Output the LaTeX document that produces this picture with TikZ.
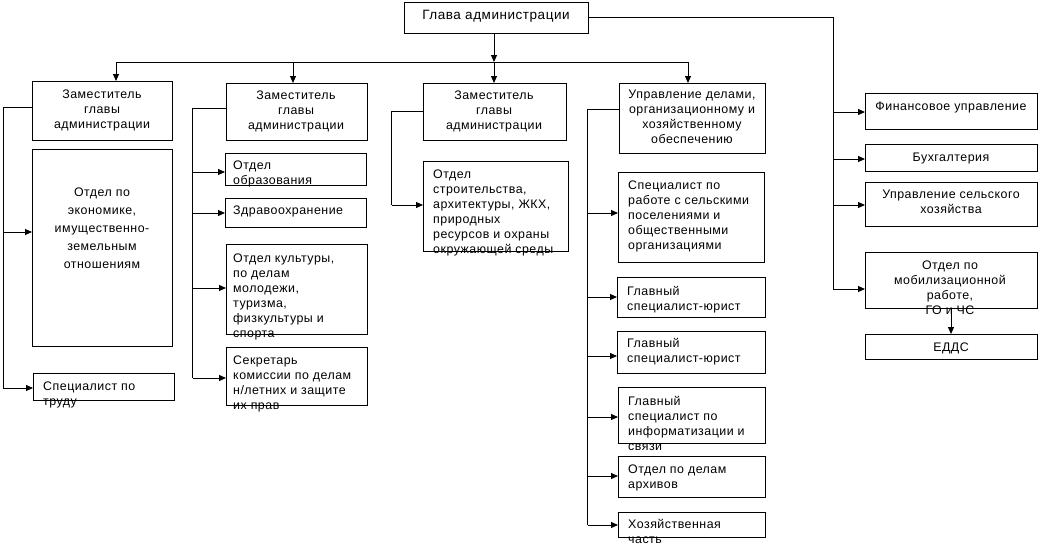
\documentclass[tikz,border=0pt]{standalone}
\usepackage{fontspec}
\setmainfont[LetterSpace=4]{Liberation Sans}
\usetikzlibrary{arrows.meta,calc}
\newcommand\mkbox[5]{\node[box, minimum width={#4-#2}, minimum height={#5-#3}] (#1) at (#2,#3) {};}
\begin{document}
\begin{tikzpicture}[x=1pt,y=-1pt,
  box/.style={draw, line width=1pt, inner sep=0pt, outer sep=0pt, anchor=north west},
  ln/.style={line width=1pt},
  arr/.style={line width=1pt, -{Triangle[length=7pt,width=6pt]}},
  tc/.style={inner sep=0pt, anchor=base, align=center, font=\fontsize{12.4}{15}\selectfont},
  tl/.style={inner sep=0pt, anchor=base west, align=left, font=\fontsize{12.4}{15}\selectfont}
]
\useasboundingbox (0,0) rectangle (1038,544);
% boxes
\mkbox{head}{404}{2}{588}{33}
\mkbox{dep1}{32}{81}{172}{140}
\mkbox{dep2}{226}{83}{367}{140}
\mkbox{dep3}{423}{83}{566}{140}
\mkbox{dep4}{619}{83}{765}{153}
\mkbox{econ}{32}{149}{172}{346}
\mkbox{trud}{33}{373}{174}{400}
\mkbox{obr}{225}{153}{366}{185}
\mkbox{zdrav}{225}{198}{366}{227}
\mkbox{kult}{226}{244}{367}{334}
\mkbox{sekr}{226}{347}{367}{405}
\mkbox{stroi}{423}{161}{568}{251}
\mkbox{spec}{618}{172}{764}{262}
\mkbox{jur1}{617}{277}{765}{317}
\mkbox{jur2}{617}{331}{765}{373}
\mkbox{inf}{618}{387}{765}{443}
\mkbox{arch}{618}{456}{765}{497}
\mkbox{hoz}{618}{512}{765}{537}
\mkbox{fin}{865}{93}{1037}{129}
\mkbox{buh}{865}{144}{1037}{171}
\mkbox{selh}{865}{182}{1037}{226}
\mkbox{mob}{865}{252}{1037}{308}
\mkbox{edds}{865}{334}{1037}{359}
% texts (anchor = baseline of the last line)
\node[tc, font=\fontsize{13.5}{15}\selectfont] (t-head) at (496,19) {Глава администрации};
\node[tc] (t-dep1) at (102,128) {Заместитель\\главы\\администрации};
\node[tc] (t-dep2) at (296,129.5) {Заместитель\\главы\\администрации};
\node[tc] (t-dep3) at (494,129.5) {Заместитель\\главы\\администрации};
\node[tc] (t-dep4) at (692,143.5) {Управление делами,\\организационному и\\хозяйственному\\обеспечению};
\node[tc, font=\fontsize{12.4}{18}\selectfont] (t-econ) at (102,268.5) {Отдел по\\экономике,\\имущественно-\\земельным\\отношениям};
\node[tl] (t-trud) at (43,405) {Специалист по\\труду};
\node[tl] (t-obr) at (233,184) {Отдел\\образования};
\node[tl] (t-zdrav) at (233,214) {Здравоохранение};
\node[tl] (t-kult) at (233,337.5) {Отдел культуры,\\по делам\\молодежи,\\туризма,\\физкультуры и\\спорта};
\node[tl] (t-sekr) at (233,409) {Секретарь\\комиссии по делам\\н/летних и защите\\их прав};
\node[tl] (t-stroi) at (433,253) {Отдел\\строительства,\\архитектуры, ЖКХ,\\природных\\ресурсов и охраны\\окружающей среды};
\node[tl] (t-spec) at (628,249) {Специалист по\\работе с сельскими\\поселениями и\\общественными\\организациями};
\node[tl] (t-jur1) at (627,310) {Главный\\специалист-юрист};
\node[tl] (t-jur2) at (627,362.5) {Главный\\специалист-юрист};
\node[tl] (t-inf) at (628,450) {Главный\\специалист по\\информатизации и\\связи};
\node[tl] (t-arch) at (628,488) {Отдел по делам\\архивов};
\node[tl] (t-hoz) at (628,543) {Хозяйственная\\часть};
\node[tc] (t-fin) at (951,110) {Финансовое управление};
\node[tc] (t-buh) at (951,161) {Бухгалтерия};
\node[tc] (t-selh) at (951,213.5) {Управление сельского\\хозяйства};
\node[tc] (t-mob) at (950,314) {Отдел по\\мобилизационной\\работе,\\ГО и ЧС};
\node[tc] (t-edds) at (951,351) {ЕДДС};
% top bus
\coordinate (b1) at (116,62);
\coordinate (b2) at (293,62);
\coordinate (b3) at (494,62);
\coordinate (b4) at (688,62);
\draw[arr] (b3 |- head.south) -- (b3);
\draw[ln] (b1) -- (b4);
\draw[arr] (b1) -- (b1 |- dep1.north);
\draw[arr] (b2) -- (b2 |- dep2.north);
\draw[arr] (b3) -- (b3 |- dep3.north);
\draw[arr] (b4) -- (b4 |- dep4.north);
% right branch
\coordinate (rb) at (833,289);
\draw[ln] (head.east) -| (rb);
\coordinate (r1) at (833,112);
\coordinate (r2) at (833,159);
\coordinate (r3) at (833,205);
\draw[arr] (r1) -- (r1 -| fin.west);
\draw[arr] (r2) -- (r2 -| buh.west);
\draw[arr] (r3) -- (r3 -| selh.west);
\draw[arr] (rb) -- (rb -| mob.west);
\draw[arr] (mob.south) -- (edds.north);
% column 1
\coordinate (l1t) at (3,107);
\coordinate (l1a) at (3,232);
\coordinate (l1b) at (3,388);
\draw[ln] (l1t -| dep1.west) -- (l1t) -- (l1b);
\draw[arr] (l1a) -- (l1a -| econ.west);
\draw[arr] (l1b) -- (l1b -| trud.west);
% column 2
\coordinate (l2t) at (192.5,108);
\coordinate (l2a) at (192.5,172);
\coordinate (l2b) at (192.5,213);
\coordinate (l2c) at (192.5,288);
\coordinate (l2d) at (192.5,378);
\draw[ln] (l2t -| dep2.west) -- (l2t) -- (l2d);
\draw[arr] (l2a) -- (l2a -| obr.west);
\draw[arr] (l2b) -- (l2b -| zdrav.west);
\draw[arr] (l2c) -- (l2c -| kult.west);
\draw[arr] (l2d) -- (l2d -| sekr.west);
% column 3
\coordinate (l3t) at (391.5,111);
\coordinate (l3a) at (391.5,205);
\draw[ln] (l3t -| dep3.west) -- (l3t) -- (l3a);
\draw[arr] (l3a) -- (l3a -| stroi.west);
% column 4
\coordinate (l4t) at (587.5,109);
\coordinate (l4a) at (587.5,213);
\coordinate (l4b) at (587.5,297);
\coordinate (l4c) at (587.5,356);
\coordinate (l4d) at (587.5,417);
\coordinate (l4e) at (587.5,476);
\coordinate (l4f) at (587.5,525);
\draw[ln] (l4t -| dep4.west) -- (l4t) -- (l4f);
\draw[arr] (l4a) -- (l4a -| spec.west);
\draw[arr] (l4b) -- (l4b -| jur1.west);
\draw[arr] (l4c) -- (l4c -| jur2.west);
\draw[arr] (l4d) -- (l4d -| inf.west);
\draw[arr] (l4e) -- (l4e -| arch.west);
\draw[arr] (l4f) -- (l4f -| hoz.west);
\end{tikzpicture}
\end{document}
